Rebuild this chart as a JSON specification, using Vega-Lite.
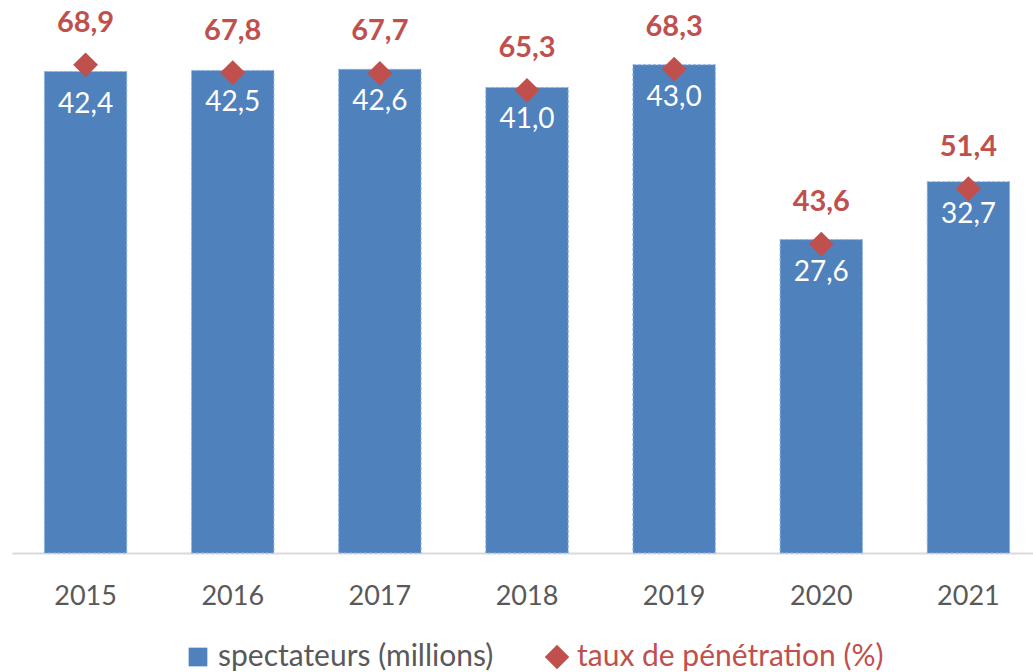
{
  "$schema": "https://vega.github.io/schema/vega-lite/v6.json",
  "width": 1033,
  "height": 553,
  "autosize": {"type": "none"},
  "padding": {"left": 0, "top": 0, "right": 0, "bottom": 119},
  "background": "white",
  "config": {
    "view": {"stroke": null},
    "font": "Lato",
    "locale": {"number": {"decimal": ",", "thousands": " ", "grouping": [3], "currency": ["", " €"]}}
  },
  "data": {
    "values": [
      {"annee": "2015", "spectateurs": 42.4, "taux": 68.9},
      {"annee": "2016", "spectateurs": 42.5, "taux": 67.8},
      {"annee": "2017", "spectateurs": 42.6, "taux": 67.7},
      {"annee": "2018", "spectateurs": 41.0, "taux": 65.3},
      {"annee": "2019", "spectateurs": 43.0, "taux": 68.3},
      {"annee": "2020", "spectateurs": 27.6, "taux": 43.6},
      {"annee": "2021", "spectateurs": 32.7, "taux": 51.4}
    ]
  },
  "encoding": {
    "x": {
      "field": "annee",
      "type": "ordinal",
      "scale": {"range": [12, 1042], "paddingInner": 0.44, "paddingOuter": 0.22},
      "axis": {
        "title": null,
        "labelAngle": 0,
        "labelFontSize": 27,
        "labelFont": "Lato",
        "labelColor": "#595959",
        "ticks": false,
        "tickSize": 0,
        "labelPadding": 30,
        "domainColor": "#D9D9D9",
        "domainWidth": 2,
        "grid": false
      }
    }
  },
  "layer": [
    {
      "mark": {"type": "bar", "stroke": "#8EB4E3", "strokeDash": [3, 2], "strokeWidth": 1},
      "encoding": {
        "y": {"field": "spectateurs", "type": "quantitative", "scale": {"domain": [0, 48.7]}, "axis": null},
        "color": {
          "datum": "spectateurs (millions)",
          "scale": {"domain": ["spectateurs (millions)", "taux de pénétration (%)"], "range": ["#4F81BD", "#C0504D"]},
          "legend": {
            "orient": "none",
            "legendX": 183,
            "legendY": 642,
            "direction": "horizontal",
            "title": null,
            "labelFontSize": 30,
            "labelFont": "Lato",
            "labelLimit": 400,
            "labelOffset": 5,
            "columnPadding": 48,
            "labelColor": {"expr": "datum.value == 'taux de pénétration (%)' ? '#C0504D' : '#595959'"},
            "symbolType": {"expr": "datum.value == 'taux de pénétration (%)' ? 'diamond' : 'square'"},
            "symbolSize": {"expr": "datum.value == 'taux de pénétration (%)' ? 600 : 350"},
            "symbolStrokeWidth": 0,
            "symbolOpacity": 1
          }
        }
      }
    },
    {
      "mark": {"type": "text", "baseline": "middle", "dy": 33, "fontSize": 28, "color": "white", "font": "Lato"},
      "encoding": {
        "y": {"field": "spectateurs", "type": "quantitative", "scale": {"domain": [0, 48.7]}, "axis": null},
        "text": {"field": "spectateurs", "type": "quantitative", "format": ".1f"}
      }
    },
    {
      "mark": {"type": "point", "shape": "diamond", "filled": true, "size": 620, "opacity": 1},
      "encoding": {
        "y": {"field": "taux", "type": "quantitative", "scale": {"domain": [0, 78.05]}, "axis": null},
        "color": {"datum": "taux de pénétration (%)"}
      }
    },
    {
      "mark": {"type": "text", "baseline": "middle", "dy": -42, "fontSize": 29, "fontWeight": "bold", "color": "#C0504D", "font": "Lato"},
      "encoding": {
        "y": {"field": "taux", "type": "quantitative", "scale": {"domain": [0, 78.05]}, "axis": null},
        "text": {"field": "taux", "type": "quantitative", "format": ".1f"}
      }
    }
  ],
  "resolve": {"scale": {"y": "independent"}}
}
